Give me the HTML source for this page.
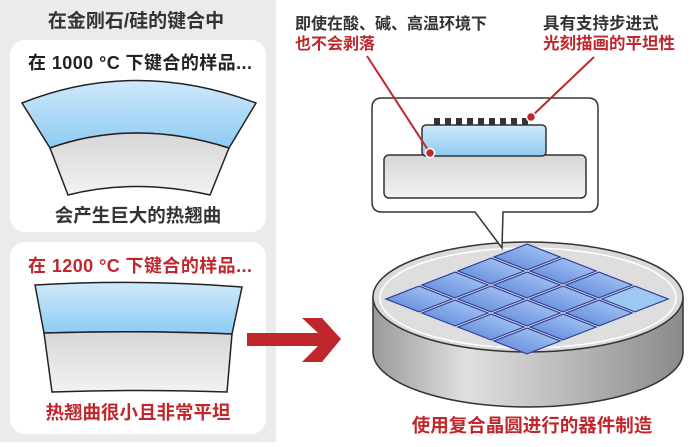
<!DOCTYPE html>
<html><head><meta charset="utf-8"><style>
body{margin:0;width:693px;height:442px;overflow:hidden;background:#fff;font-family:"Liberation Sans","Noto Sans CJK SC",sans-serif;}
</style></head><body>
<svg width="693" height="442" viewBox="0 0 693 442" xmlns="http://www.w3.org/2000/svg" font-family="Liberation Sans, Noto Sans CJK SC, sans-serif" font-weight="bold">
<defs>
<linearGradient id="bl" x1="0" y1="0" x2="0" y2="1"><stop offset="0" stop-color="#cfe9fb"/><stop offset="1" stop-color="#8ecbf3"/></linearGradient>
<linearGradient id="gr" x1="0" y1="0" x2="0" y2="1"><stop offset="0" stop-color="#d6d6d6"/><stop offset="1" stop-color="#f2f2f2"/></linearGradient>
<linearGradient id="side" x1="0" y1="0" x2="1" y2="0"><stop offset="0" stop-color="#9a9a9a"/><stop offset="0.3" stop-color="#e0e0e0"/><stop offset="0.6" stop-color="#bdbdbd"/><stop offset="1" stop-color="#8a8a8a"/></linearGradient>
<linearGradient id="tile" x1="0" y1="0" x2="0" y2="1"><stop offset="0" stop-color="#9bbcf0"/><stop offset="1" stop-color="#6f95e0"/></linearGradient>
</defs>
<rect x="0" y="0" width="276" height="442" fill="#ebebeb"/>
<text x="136" y="27" font-size="19" text-anchor="middle" fill="#333">在金刚石/硅的键合中</text>
<rect x="10" y="40" width="256" height="192" rx="15" fill="#fff"/>
<text x="140" y="69" font-size="18" text-anchor="middle" fill="#222" textLength="224" lengthAdjust="spacing">在 1000 °C 下键合的样品...</text>
<path d="M22,103 Q135,58 256,103 L229,148 Q135,118 50,148 Z" fill="url(#bl)" stroke="#222" stroke-width="1.5"/>
<path d="M50,148 Q135,118 229,148 L210,195 Q135,178 68,195 Z" fill="url(#gr)" stroke="#222" stroke-width="1.5"/>
<text x="138" y="222" font-size="18.5" text-anchor="middle" fill="#333">会产生巨大的热翘曲</text>
<rect x="10" y="242" width="256" height="192" rx="15" fill="#fff"/>
<text x="140" y="272" font-size="18" text-anchor="middle" fill="#c0272d" textLength="224" lengthAdjust="spacing">在 1200 °C 下键合的样品...</text>
<path d="M35,285 Q138,279 242,287 L232,334 Q138,330 44,333 Z" fill="url(#bl)" stroke="#222" stroke-width="1.5"/>
<path d="M44,333 Q138,330 232,334 L227,392 Q138,389 52,392 Z" fill="url(#gr)" stroke="#222" stroke-width="1.5"/>
<text x="138" y="419" font-size="18.5" text-anchor="middle" fill="#c0272d">热翘曲很小且非常平坦</text>
<path d="M247,333 L318,333 L302,318 L322,318 L341,339 L322,362 L302,362 L318,346 L247,346 Z" fill="#c0272d"/>
<text x="295" y="29" font-size="16" fill="#333">即使在酸、碱、高温环境下</text>
<text x="295" y="49" font-size="16" fill="#c0272d">也不会剥落</text>
<text x="543" y="29" font-size="16.5" fill="#333">具有支持步进式</text>
<text x="543" y="49" font-size="16.5" fill="#c0272d">光刻描画的平坦性</text>
<!-- wafer -->
<path d="M373,297 L373,352 A155,55 0 0 0 683,352 L683,297 Z" fill="url(#side)" stroke="#333" stroke-width="1.5"/>
<ellipse cx="528" cy="297" rx="155" ry="55" fill="#d9d9d9" stroke="#333" stroke-width="1.5"/>
<ellipse cx="528" cy="298" rx="148" ry="50" fill="#dedede" stroke="#fff" stroke-width="1.5"/>
<g stroke="#2e3f99" stroke-width="1.2" fill="url(#tile)">
<g transform="matrix(36,14,-36,14,527,243)">
<path d="M0.04,0.04 h0.92 v0.92 h-0.92 Z" vector-effect="non-scaling-stroke"/>
<path d="M1.04,0.04 h0.92 v0.92 h-0.92 Z" vector-effect="non-scaling-stroke"/>
<path d="M2.04,0.04 h0.92 v0.92 h-0.92 Z" vector-effect="non-scaling-stroke"/>
<path d="M3.04,0.04 h0.92 v0.92 h-0.92 Z" vector-effect="non-scaling-stroke" fill="#9cc8f2"/>
<path d="M0.04,1.04 h0.92 v0.92 h-0.92 Z" vector-effect="non-scaling-stroke"/>
<path d="M1.04,1.04 h0.92 v0.92 h-0.92 Z" vector-effect="non-scaling-stroke"/>
<path d="M2.04,1.04 h0.92 v0.92 h-0.92 Z" vector-effect="non-scaling-stroke"/>
<path d="M3.04,1.04 h0.92 v0.92 h-0.92 Z" vector-effect="non-scaling-stroke"/>
<path d="M0.04,2.04 h0.92 v0.92 h-0.92 Z" vector-effect="non-scaling-stroke"/>
<path d="M1.04,2.04 h0.92 v0.92 h-0.92 Z" vector-effect="non-scaling-stroke"/>
<path d="M2.04,2.04 h0.92 v0.92 h-0.92 Z" vector-effect="non-scaling-stroke"/>
<path d="M3.04,2.04 h0.92 v0.92 h-0.92 Z" vector-effect="non-scaling-stroke"/>
<path d="M0.04,3.04 h0.92 v0.92 h-0.92 Z" vector-effect="non-scaling-stroke"/>
<path d="M1.04,3.04 h0.92 v0.92 h-0.92 Z" vector-effect="non-scaling-stroke"/>
<path d="M2.04,3.04 h0.92 v0.92 h-0.92 Z" vector-effect="non-scaling-stroke"/>
<path d="M3.04,3.04 h0.92 v0.92 h-0.92 Z" vector-effect="non-scaling-stroke"/>
</g></g>
<!-- callout -->
<path d="M382,98 H588 Q598,98 598,108 V202 Q598,212 588,212 H503 L502,248 L475,212 H382 Q372,212 372,202 V108 Q372,98 382,98 Z" fill="#fff" stroke="#333" stroke-width="1.5"/>
<rect x="384" y="155" width="202" height="43" rx="5" fill="url(#gr)" stroke="#333" stroke-width="1.5"/>
<g fill="#333">
<rect x="434" y="118" width="6" height="8"/><rect x="445" y="118" width="6" height="8"/><rect x="456" y="118" width="6" height="8"/><rect x="467" y="118" width="6" height="8"/><rect x="478" y="118" width="6" height="8"/><rect x="489" y="118" width="6" height="8"/><rect x="500" y="118" width="6" height="8"/><rect x="511" y="118" width="6" height="8"/><rect x="522" y="118" width="6" height="8"/>
</g>
<rect x="422" y="125" width="124" height="31" rx="4" fill="url(#bl)" stroke="#333" stroke-width="1.5"/>
<line x1="367" y1="56" x2="430" y2="153" stroke="#c0272d" stroke-width="2"/>
<line x1="594" y1="57" x2="531" y2="117" stroke="#c0272d" stroke-width="2"/>
<circle cx="430" cy="153" r="4.5" fill="#c0272d" stroke="#fff" stroke-width="1.5"/>
<circle cx="531" cy="117" r="4.5" fill="#c0272d" stroke="#fff" stroke-width="1.5"/>
<text x="532" y="432" font-size="18.5" text-anchor="middle" fill="#c0272d">使用复合晶圆进行的器件制造</text>
</svg>
</body></html>
